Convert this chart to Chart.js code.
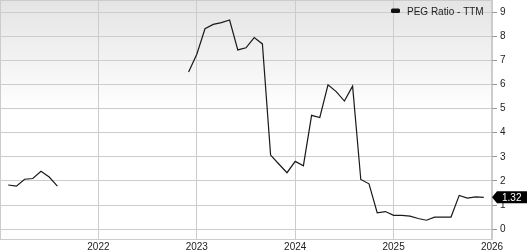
<!DOCTYPE html>
<html>
<head>
<meta charset="utf-8">
<script src="https://cdn.jsdelivr.net/npm/chart.js@4.4.1/dist/chart.umd.min.js"></script>
<style>
  html, body { margin: 0; padding: 0; background: #fff; }
  #wrap { width: 527px; height: 250px; }
</style>
</head>
<body>
<div id="wrap"><canvas id="pegChart" width="527" height="250"></canvas></div>
<script>
// Month-end data points, starting Jan 2021 (null = no data)
const startYear = 2021;
const months = [];
for (let i = 0; i < 59; i++) {
    months.push((startYear + Math.floor(i / 12)) + '-' + String(i % 12 + 1).padStart(2, '0'));
}
const pegValues = [
    1.83, 1.78, 2.07, 2.10, 2.40, 2.16, 1.78,                 // Jan-Jul 2021
    null, null, null, null, null,                             // Aug-Dec 2021
    null, null, null, null, null, null, null, null, null, null, // Jan-Oct 2022
    6.51, 7.25,                                               // Nov-Dec 2022
    8.31, 8.49, 8.56, 8.67, 7.43, 7.52, 7.94, 7.68, 3.07, 2.70, 2.34, 2.81, // 2023
    2.63, 4.72, 4.63, 5.98, 5.70, 5.31, 5.93, 2.06, 1.88, 0.68, 0.73, 0.57, // 2024
    0.57, 0.54, 0.44, 0.37, 0.50, 0.50, 0.50, 1.40, 1.29, 1.34, 1.32        // Jan-Nov 2025
];
const yearTicks = [2022, 2023, 2024, 2025, 2026];
const yTicks = [0, 1, 2, 3, 4, 5, 6, 7, 8, 9];
const seriesName = 'PEG Ratio - TTM';

const FONT = '"Liberation Sans", Arial, sans-serif';

// month string -> decimal year at month end
function toYear(m) {
    const [y, mo] = m.split('-').map(Number);
    return y + mo / 12;
}

const points = months.map((m, i) => ({ x: toYear(m), y: pegValues[i] }));
const lastValue = pegValues[pegValues.length - 1];

const decorPlugin = {
    id: 'decor',
    beforeDraw(chart) {
        const { ctx, chartArea: a } = chart;
        ctx.save();
        ctx.fillStyle = '#ffffff';
        ctx.fillRect(0, 0, chart.width, chart.height);
        const g = ctx.createLinearGradient(0, a.top, 0, a.top + 112);
        g.addColorStop(0, '#e4e4e4');
        g.addColorStop(1, '#ffffff');
        ctx.fillStyle = g;
        ctx.fillRect(a.left, a.top, a.right - a.left, a.bottom - a.top);
        ctx.restore();
    },
    afterDraw(chart) {
        const { ctx, chartArea: a } = chart;
        ctx.save();
        // plot border
        ctx.strokeStyle = '#cccccc';
        ctx.lineWidth = 1;
        ctx.strokeRect(a.left + 0.5, a.top + 0.5, a.right - a.left - 1, a.bottom - a.top - 1);

        // legend
        ctx.fillStyle = '#111111';
        ctx.beginPath();
        ctx.roundRect(391, 8.5, 9, 4.5, 1.5);
        ctx.fill();
        ctx.fillStyle = '#222222';
        ctx.font = '10px ' + FONT;
        ctx.textBaseline = 'middle';
        ctx.textAlign = 'left';
        ctx.fillText(seriesName, 407, 12);

        // last value tag
        const yc = chart.scales.y.getPixelForValue(lastValue);
        const x0 = a.right;
        ctx.fillStyle = '#000000';
        ctx.beginPath();
        ctx.moveTo(x0, yc);
        ctx.lineTo(x0 + 5, yc - 6);
        ctx.lineTo(chart.width, yc - 6);
        ctx.lineTo(chart.width, yc + 6);
        ctx.lineTo(x0 + 5, yc + 6);
        ctx.closePath();
        ctx.fill();
        ctx.fillStyle = '#ffffff';
        ctx.font = '10px ' + FONT;
        ctx.fillText(lastValue.toFixed(2), x0 + 10, yc + 0.5);
        ctx.restore();
    }
};

const ctx = document.getElementById('pegChart').getContext('2d');
const pegChart = new Chart(ctx, {
    type: 'line',
    data: {
        datasets: [{
            label: seriesName,
            data: points,
            borderColor: '#1a1a1a',
            borderWidth: 1.2,
            pointRadius: 0,
            tension: 0,
            spanGaps: false,
            fill: false
        }]
    },
    options: {
        responsive: false,
        animation: false,
        events: [],
        layout: { padding: 0 },
        plugins: { legend: { display: false }, tooltip: { enabled: false } },
        scales: {
            x: {
                type: 'linear',
                min: 2021,
                max: 2026,
                afterBuildTicks(s) { s.ticks = yearTicks.map(v => ({ value: v })); },
                afterFit(s) { s.height = 10; s.paddingLeft = 0; s.paddingRight = 0; },
                ticks: {
                    autoSkip: false,
                    maxRotation: 0,
                    padding: 1,
                    color: '#222222',
                    font: { family: FONT, size: 10 },
                    callback: v => String(v)
                },
                grid: { color: '#cccccc', drawTicks: false },
                border: { display: false }
            },
            y: {
                position: 'right',
                min: -0.45,
                max: 9.5,
                afterBuildTicks(s) { s.ticks = yTicks.map(v => ({ value: v })); },
                afterFit(s) { s.width = 35; s.paddingTop = 0; s.paddingBottom = 0; },
                ticks: {
                    padding: 3,
                    color: '#222222',
                    font: { family: FONT, size: 10 },
                    callback: v => String(v)
                },
                grid: { color: '#cccccc', tickColor: '#999999', tickLength: 5 },
                border: { display: false }
            }
        }
    },
    plugins: [decorPlugin]
});
</script>
</body>
</html>
